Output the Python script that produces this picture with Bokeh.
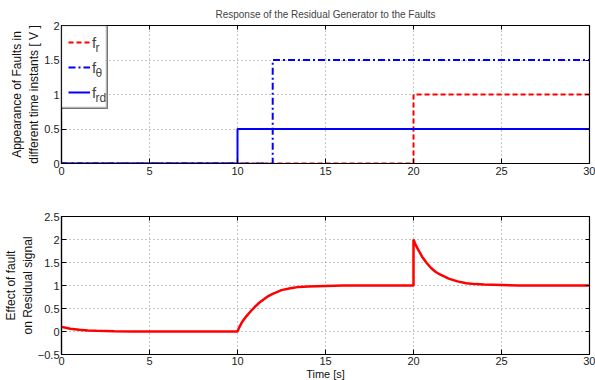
from bokeh.plotting import figure
from bokeh.layouts import column
from bokeh.models import (Legend, LegendItem, Label, LinearAxis, FixedTicker,
                          CustomJSTickFormatter, Range1d, BoxAnnotation)
from bokeh.embed import file_html
from bokeh.resources import INLINE

# ---- data ----
fault_time = [0, 10, 12, 20, 30]
f_r = [0, 0, 0, 1, 1]
f_theta = [0, 0, 1.5, 1.5, 1.5]
f_rd = [0, 0.5, 0.5, 0.5, 0.5]

res_time = [0, 0.25, 0.5, 1, 1.5, 2, 3, 4, 5, 10,
            10.1, 10.25, 10.5, 10.75, 11, 11.25, 11.5, 11.75, 12, 12.5, 13, 13.5, 14, 15, 16, 20,
            20, 20.1, 20.25, 20.5, 20.75, 21, 21.25, 21.5, 22, 22.5, 23, 23.5, 24, 25, 26, 30]
res_val = [0.1, 0.08, 0.062, 0.038, 0.022, 0.014, 0.005, 0.002, 0, 0,
           0.09, 0.2, 0.33, 0.44, 0.54, 0.63, 0.7, 0.77, 0.82, 0.9, 0.94, 0.97, 0.98, 0.99, 1.0, 1.0,
           2.0, 1.9, 1.79, 1.62, 1.49, 1.38, 1.3, 1.24, 1.15, 1.09, 1.05, 1.03, 1.02, 1.01, 1.0, 1.0]

x_ticks = [0, 5, 10, 15, 20, 25, 30]
y_ticks_top = [0, 0.5, 1, 1.5, 2]
y_ticks_bot = [-0.5, 0, 0.5, 1, 1.5, 2, 2.5]

FONT = "Liberation Sans"
FW, FH = 528, 138
BL = 61

fmt_code = 'return tick < 0 ? "\\u2212" + String(Math.abs(tick)) : String(tick);'


def style(p, yticks, ylabel):
    p.xaxis.ticker = FixedTicker(ticks=x_ticks)
    p.yaxis.ticker = FixedTicker(ticks=yticks)
    p.xaxis.formatter = CustomJSTickFormatter(code=fmt_code)
    p.yaxis.formatter = CustomJSTickFormatter(code=fmt_code)
    for ax in p.xaxis + p.yaxis:
        ax.major_tick_in = 5
        ax.major_tick_out = 0
        ax.minor_tick_line_color = None
        ax.major_label_text_font = FONT
        ax.major_label_text_font_size = "11px"
        ax.major_label_text_color = "#222222"
        ax.axis_line_color = "black"
        ax.axis_line_width = 1.2
        ax.axis_label_text_font = FONT
        ax.axis_label_text_font_size = "12px"
        ax.axis_label_text_font_style = "normal"
        ax.axis_label_text_color = "#111111"
    p.xaxis.major_label_standoff = 3
    p.yaxis.major_label_standoff = 2
    p.yaxis.axis_label = ylabel
    p.yaxis.axis_label_standoff = 0
    p.grid.grid_line_color = "#8a8a8a"
    p.grid.grid_line_dash = "1 3"
    p.grid.grid_line_width = 1
    p.xgrid.ticker = FixedTicker(ticks=x_ticks)
    p.ygrid.ticker = FixedTicker(ticks=yticks)
    p.outline_line_color = "black"
    p.outline_line_width = 1.2
    # mirrored ticks on top and right
    for loc, ticks in (("above", x_ticks), ("right", yticks)):
        ax = LinearAxis(ticker=FixedTicker(ticks=ticks),
                        formatter=CustomJSTickFormatter(code='return "";'))
        ax.major_label_standoff = 0
        ax.major_tick_in = 4
        ax.major_tick_out = 0
        ax.minor_tick_line_color = None
        ax.axis_line_color = None
        p.add_layout(ax, loc)


# ---- top figure ----
p1 = figure(frame_width=FW, frame_height=FH, output_backend="svg", toolbar_location=None,
            x_range=Range1d(0, 30), y_range=Range1d(0, 2),
            min_border_left=BL, min_border_right=6, min_border_top=25, min_border_bottom=22)
p1.title.text = "Response of the Residual Generator to the Faults"
p1.title.text_font = FONT
p1.title.text_font_size = "10px"
p1.title.text_font_style = "normal"
p1.title.align = "center"
p1.title.standoff = 12
p1.title.offset = 0

r_r = p1.step(fault_time, f_r, mode="after", line_color="#ff0000", line_width=2, line_dash="5 3")
r_th = p1.step(fault_time, f_theta, mode="after", line_color="#0000ff", line_width=2, line_dash="7 3 2 3")
r_rd = p1.step(fault_time, f_rd, mode="after", line_color="#0000ff", line_width=2)
style(p1, y_ticks_top, "Appearance of Faults in\ndifferent time instants [ V ]")

# white, black-edged backing for the legend box (legend itself is transparent so subscripts show)
p1.add_layout(BoxAnnotation(left=0, right=45, top=FH, bottom=FH - 82,
                            left_units="screen", right_units="screen",
                            top_units="screen", bottom_units="screen",
                            fill_color="white", fill_alpha=1,
                            line_color="black", line_width=1.5))

for i, sub in enumerate(["r", "\u03b8", "rd"]):
    p1.add_layout(Label(x=34, y=FH - (6 + 10 + 25 * i) - 6, x_units="screen", y_units="screen",
                        text=sub, text_font=FONT, text_font_size="12px",
                        text_baseline="middle", text_align="left"))

legend = Legend(items=[LegendItem(label="f", renderers=[r_r]),
                       LegendItem(label="f", renderers=[r_th]),
                       LegendItem(label="f", renderers=[r_rd])],
                location="top_left", margin=0, padding=6, spacing=5,
                glyph_width=22, glyph_height=20, label_standoff=2, label_width=9, label_height=20,
                label_text_font=FONT, label_text_font_size="15px",
                border_line_color="black", border_line_width=1.5,
                background_fill_alpha=0)
p1.add_layout(legend)

# ---- bottom figure ----
p2 = figure(frame_width=FW, frame_height=FH, output_backend="svg", toolbar_location=None,
            x_range=Range1d(0, 30), y_range=Range1d(-0.5, 2.5),
            min_border_left=BL, min_border_right=6, min_border_top=31, min_border_bottom=24)
p2.line(res_time, res_val, line_color="#ff0000", line_width=2.5)
style(p2, y_ticks_bot, "Effect of fault\non Residual signal")
xb = p2.below[0]
xb.axis_label = "Time [s]"
xb.axis_label_text_font_size = "11px"
xb.axis_label_standoff = 0
xb.major_label_standoff = 2

layout = column(p1, p2, spacing=0)
open("out.html", "w").write(file_html(layout, INLINE))
